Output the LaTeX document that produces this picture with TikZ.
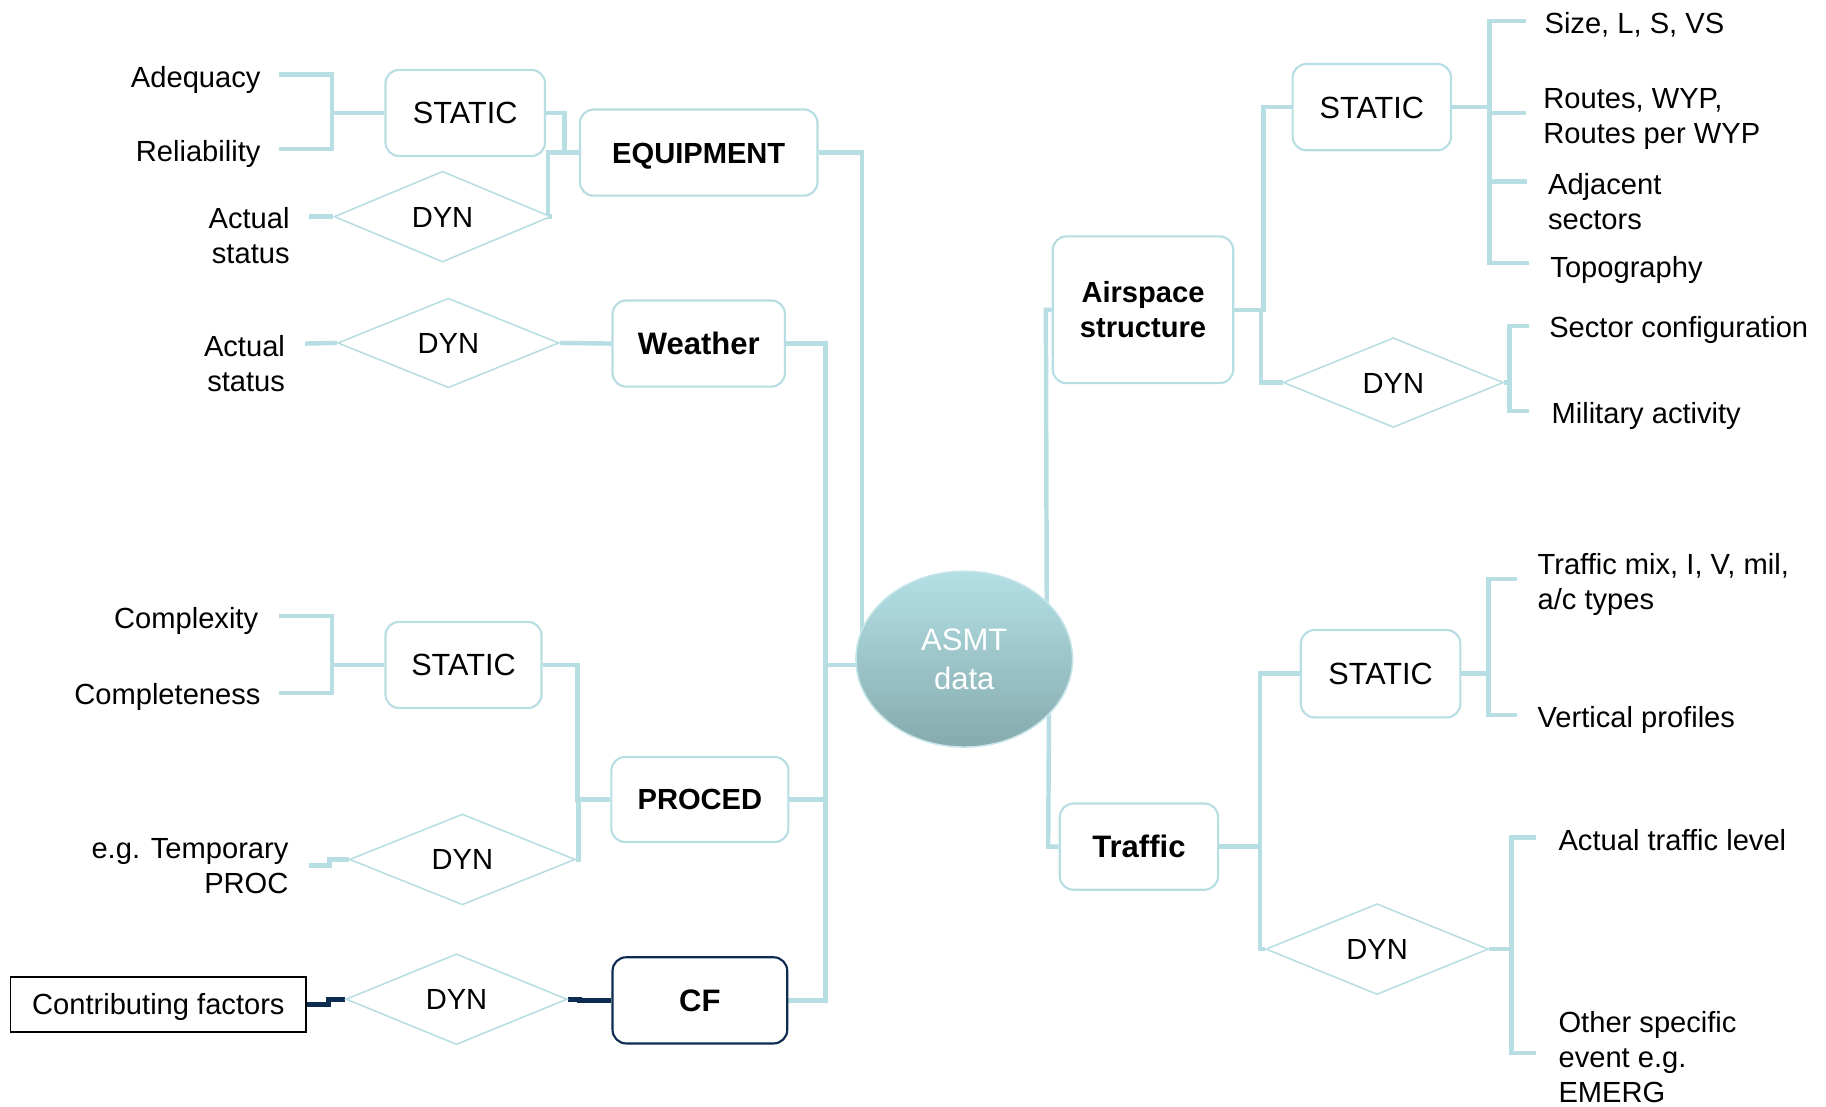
\documentclass[tikz,border=0pt]{standalone}
\usepackage{fontspec}
\setmainfont{Liberation Sans}
\usetikzlibrary{shapes.geometric,calc}
\pgfdeclarelayer{background}
\pgfsetlayers{background,main}
\definecolor{lb}{HTML}{B7DEE2}
\definecolor{navy}{HTML}{0E2B50}
\definecolor{eltop}{HTML}{B3E0E5}
\definecolor{elbot}{HTML}{86AAAD}
\begin{document}
\begin{tikzpicture}[x=0.6pt,y=-0.6pt,
 every node/.style={font=\fontsize{15}{18}\selectfont},
 box/.style={draw=lb, line width=1.1pt, rounded corners=7pt, fill=white, inner sep=0pt, align=center, minimum height=44.4pt},
 sbox/.style={box, text height=10.8pt, text depth=0pt},
 stbox/.style={sbox, font=\fontsize{15.8}{19}\selectfont, text height=11.3pt},
 dia/.style={diamond, draw=lb, line width=0.8pt, fill=white, inner sep=0pt, minimum width=114pt, minimum height=46.8pt, text height=10.8pt, text depth=0pt},
 lbl/.style={inner sep=0pt},
 sl/.style={inner sep=0pt, text height=10.8pt, text depth=0pt},
 conn/.style={draw=lb, line width=2.3pt},
 nconn/.style={draw=navy, line width=2.6pt},
 bigb/.style={font=\fontsize{16}{19}\selectfont\bfseries, text height=11.5pt},
 medb/.style={font=\fontsize{15}{18}\selectfont\bfseries}]
\useasboundingbox (0,0) rectangle (1568,950);

% left nodes
\node[stbox, minimum width=82.2pt] (st1) at (399.5,97) {STATIC};
\node[sbox, medb, minimum width=122.4pt] (eq) at (600,131) {EQUIPMENT};
\node[dia, minimum width=111.6pt] (d1) at (380,186) {DYN};
\node[sbox, bigb, minimum width=88.8pt] (wea) at (600,295) {Weather};
\node[dia, minimum width=114pt, minimum height=46.2pt] (d2) at (385,294.5) {DYN};
\node[stbox, minimum width=80.4pt] (st2) at (398,571) {STATIC};
\node[sbox, medb, minimum width=91.2pt, minimum height=43.8pt] (pro) at (601,686.5) {PROCED};
\node[dia, minimum width=116.4pt] (d3) at (397,738) {DYN};
\node[sbox, bigb, draw=navy, minimum width=90pt] (cf) at (601,859) {CF};
\node[dia] (d4) at (392,858) {DYN};
\node[draw=black, line width=0.9pt, minimum width=152.4pt, minimum height=28.2pt, inner sep=0pt, text height=10.8pt, text depth=0pt] (cfb) at (136,862.5) {Contributing factors};
\node[ellipse, minimum width=111.6pt, minimum height=90.6pt, draw=lb!80!white, line width=0.8pt, top color=eltop, bottom color=elbot, text=white, align=center, inner sep=0pt, font=\fontsize{16}{19.8}\selectfont] (asmt) at (828,566) {ASMT\\data};

% right nodes
\node[box, medb, minimum width=93pt, minimum height=75.6pt] (air) at (981.5,266) {Airspace\\structure};
\node[stbox, minimum width=81.6pt] (st3) at (1178,92) {STATIC};
\node[dia, minimum width=113.4pt, minimum height=46.2pt] (d5) at (1196.5,328.5) {DYN};
\node[sbox, bigb, minimum width=81.6pt] (tra) at (978,727) {Traffic};
\node[stbox, minimum width=82.2pt, minimum height=45pt] (st4) at (1185.5,578.5) {STATIC};
\node[dia, minimum width=114.6pt] (d6) at (1182.5,815) {DYN};

% labels left
\node[sl, anchor=east] (l1) at (224,66) {Adequacy};
\node[sl, anchor=east] (l2) at (224,130) {Reliability};
\node[lbl, anchor=east, align=right] (l3) at (249,202) {Actual\\status};
\node[lbl, anchor=east, align=right] (l4) at (245,312) {Actual\\status};
\node[sl, anchor=east] (l5) at (222,531) {Complexity};
\node[sl, anchor=east] (l6) at (224,596) {Completeness};
\node[lbl, anchor=east, align=right] (l7) at (248,744) {e.g. Temporary\\PROC};
% labels right
\node[sl, anchor=west] (r1) at (1326,20) {Size, L, S, VS};
\node[lbl, anchor=west, align=left] (r2) at (1325,102.5) {Routes, WYP,\\Routes per WYP};
\node[lbl, anchor=west, align=left] (r3) at (1329,173) {Adjacent\\sectors};
\node[sl, anchor=west] (r4) at (1331,229) {Topography};
\node[sl, anchor=west] (r5) at (1330,281) {Sector configuration};
\node[sl, anchor=west] (r6) at (1332,355) {Military activity};
\node[lbl, anchor=west, align=left] (r7) at (1320,502) {Traffic mix, I, V, mil,\\a/c types};
\node[sl, anchor=west] (r8) at (1320,616) {Vertical profiles};
\node[sl, anchor=west] (r9) at (1338,721) {Actual traffic level};
\node[lbl, anchor=west, align=left] (r10) at (1338,908) {Other specific\\event e.g.\\EMERG};

% coordinates
\coordinate (ja) at (285,97);
\coordinate (ea1) at (240,64);
\coordinate (ea2) at (240,128);
\coordinate (eas1) at (265,186);
\coordinate (eas2) at (262,295);
\coordinate (jc) at (285,571);
\coordinate (ec1) at (240,529);
\coordinate (ec2) at (240,595);
\coordinate (et) at (265,743);
\coordinate (jl) at (708,571);
\coordinate (j3) at (1279,92);
\coordinate (s1) at (1310,18);
\coordinate (s2) at (1310,97);
\coordinate (s3) at (1311,156);
\coordinate (s4) at (1313,226);
\coordinate (j4) at (1296,328.5);
\coordinate (m1) at (1313,280);
\coordinate (m2) at (1313,353);
\coordinate (j5) at (1278,578.5);
\coordinate (t1) at (1303,497);
\coordinate (t2) at (1303,614);
\coordinate (j6) at (1298,815);
\coordinate (u1) at (1319,719);
\coordinate (u2) at (1319,904);

\begin{pgfonlayer}{background}
\draw[conn] (ea1) -| (ja) |- (ea2);
\draw[conn] (ja) -- (st1.west);
\draw[conn] (st1.east) -- ++(16,0) |- (eq.west);
\draw[conn] (d1.east) -- ++(-3,0) |- (eq.west);
\draw[conn] (eas1) -- (d1.west);
\draw[conn] (eq.east) -| ($(asmt.center)+(-88,0)$);
\draw[conn] (wea.east) -- ++(34,0) |- (cf.east);
\draw[conn] (pro.east) -- ++(31,0);
\draw[conn] (jl) -- ($(jl -| asmt.west)+(6,0)$);
\draw[conn] (eas2) -- (d2.west);
\draw[conn] (d2.east) -- (wea.west);
\draw[conn] (ec1) -| (jc) |- (ec2);
\draw[conn] (jc) -- (st2.west);
\draw[conn] (st2.east) -- ++(30,0) |- (pro.west);
\draw[conn] (d3.east) -- ++(2,0) |- (pro.west);
\draw[conn] (et) -- ++(18,0) |- (d3.west);
\draw[nconn] (cfb.east) -- ++(18,0) |- (d4.west);
\draw[nconn] (d4.east) -- ++(10,0) |- (cf.west);

\draw[conn] (air.west) -- ++(-5,0) -- ($(asmt.center)+(71,0)$);
\draw[conn] (tra.west) -- ++(-9,0) -- ($(asmt.center)+(73,0)$);
\draw[conn] (air.east) -- ++(25,0) |- (st3.west);
\draw[conn] ($(air.east)+(23,0)$) |- (d5.west);
\draw[conn] (st3.east) -- (j3);
\draw[conn] (s1) -| (j3) |- (s4);
\draw[conn] (j3 |- s2) -- (s2);
\draw[conn] (j3 |- s3) -- (s3);
\draw[conn] (d5.east) -- (j4);
\draw[conn] (m1) -| (j4) |- (m2);
\draw[conn] (tra.east) -- ++(35,0) |- (st4.west);
\draw[conn] ($(tra.east)+(35,0)$) |- (d6.west);
\draw[conn] (st4.east) -- (j5);
\draw[conn] (t1) -| (j5) |- (t2);
\draw[conn] (d6.east) -- (j6);
\draw[conn] (u1) -| (j6) |- (u2);
\end{pgfonlayer}
\end{tikzpicture}
\end{document}
